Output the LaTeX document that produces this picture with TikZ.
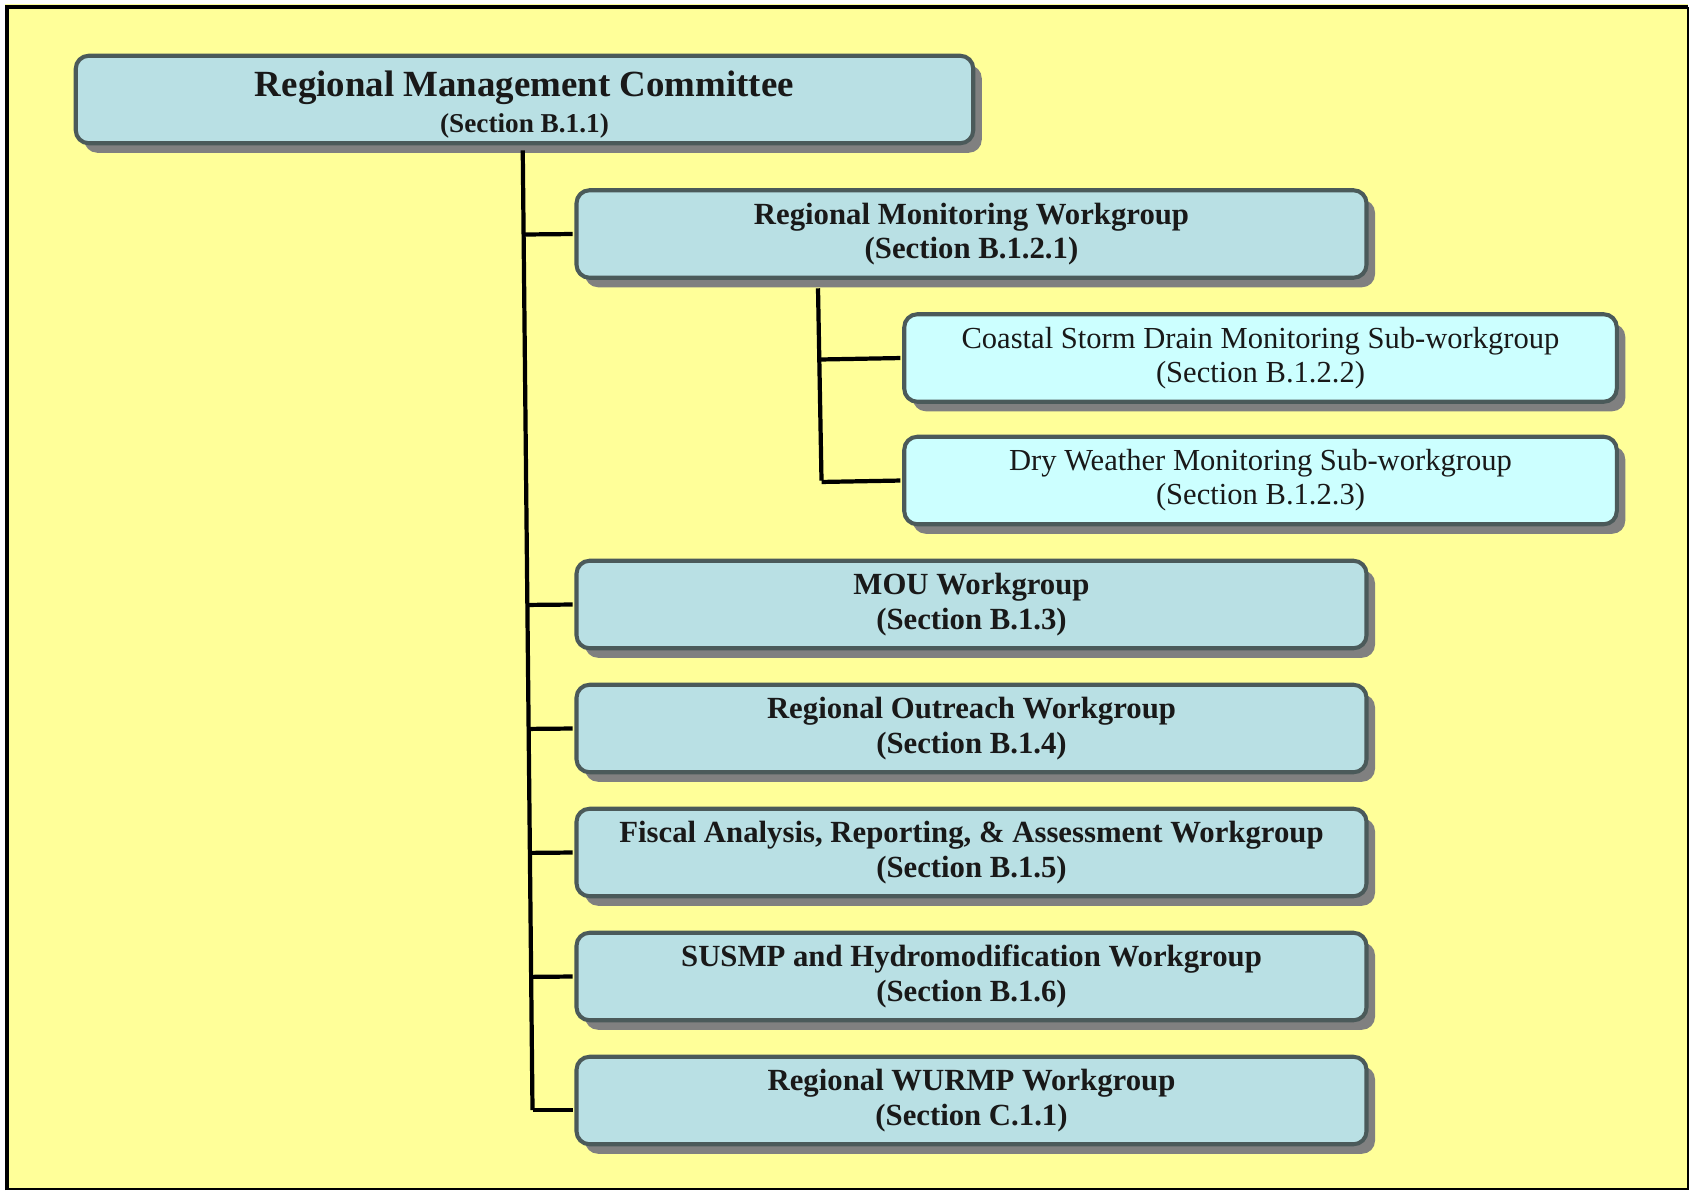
\documentclass[tikz,border=0pt]{standalone}
\usepackage{fontspec}
\setmainfont{Liberation Serif}
\usetikzlibrary{calc,shadows}
\definecolor{paper}{HTML}{FFFF99}
\definecolor{boxfill}{HTML}{B9E0E4}
\definecolor{subfill}{HTML}{CCFFFF}
\definecolor{boxline}{HTML}{4B5A5A}
\definecolor{shade}{HTML}{808080}
\tikzset{every node/.style={inner sep=0pt, align=center, text=black!90},
  orgbox/.style={draw=boxline, line width=2.3pt, rounded corners=0.26cm, minimum height=1.75cm,
    drop shadow={shadow xshift=0.17cm, shadow yshift=-0.19cm, fill=shade, opacity=1}},
  mgmtbox/.style={orgbox, fill=boxfill, minimum width=17.95cm, font=\fontsize{21}{20.5}\selectfont\bfseries},
  wgbox/.style={orgbox, fill=boxfill, minimum width=15.8cm, font=\fontsize{17.5}{19.5}\selectfont\bfseries},
  subbox/.style={orgbox, fill=subfill, minimum width=14.25cm, font=\fontsize{17.4}{19.5}\selectfont},
  link/.style={black, line width=2.4pt, shorten >=1.1pt}}

\begin{document}
\begin{tikzpicture}
   \useasboundingbox (0,0) rectangle (33.8,-23.84);
   % background sheet
   \fill[paper] (0.1,-0.08) rectangle (33.76,-23.8);
   \draw[black, line width=2.8pt] (0.14,-23.8) -- (0.14,-0.14) -- (33.76,-0.14);
   \draw[black, line width=1pt] (33.76,-0.14) -- (33.76,-23.78) -- (0.14,-23.78);
   % boxes
   \node[mgmtbox] (rmc) at (10.49,-1.99) {\rule{0pt}{20pt}Regional Management Committee\\{\fontsize{15.5}{15.5}\selectfont(Section B.1.1)}};
   \node[wgbox] (rmw) at (19.43,-4.68) {Regional Monitoring Workgroup\\(Section B.1.2.1)};
   \node[subbox] (csd) at (25.21,-7.16) {Coastal Storm Drain Monitoring Sub-workgroup\\(Section B.1.2.2)};
   \node[subbox] (dwm) at (25.21,-9.61) {Dry Weather Monitoring Sub-workgroup\\(Section B.1.2.3)};
   \node[wgbox] (mou) at (19.43,-12.09) {MOU Workgroup\\(Section B.1.3)};
   \node[wgbox] (row) at (19.43,-14.57) {Regional Outreach Workgroup\\(Section B.1.4)};
   \node[wgbox] (fra) at (19.43,-17.05) {Fiscal Analysis, Reporting, \& Assessment Workgroup\\(Section B.1.5)};
   \node[wgbox] (shw) at (19.43,-19.53) {SUSMP and Hydromodification Workgroup\\(Section B.1.6)};
   \node[wgbox] (wur) at (19.43,-22.01) {Regional WURMP Workgroup\\(Section C.1.1)};
   % trunk lines
   \coordinate (ttop) at ([yshift=-0.1cm]rmc.south -| 10.455,0);
   \coordinate (tbot) at (10.65,-22.2);
   \coordinate (stop) at ([yshift=-0.17cm]rmw.south -| 16.36,0);
   \coordinate (sbot) at (16.43,-9.61);
   \draw[link, shorten >=0pt] (ttop) -- (tbot);
   \draw[link, shorten >=0pt] (stop) -- (sbot);
   \foreach \n in {rmw,mou,row,fra,shw}
     \draw[link] ($(ttop)!(\n.west)!(tbot)$) -- (\n.west);
   \draw[link] (tbot) -- (tbot -| wur.west);
   \foreach \n in {csd,dwm}
     \draw[link] ($(stop)!(\n.west)!(sbot)$) -- (\n.west);
\end{tikzpicture}
\end{document}
